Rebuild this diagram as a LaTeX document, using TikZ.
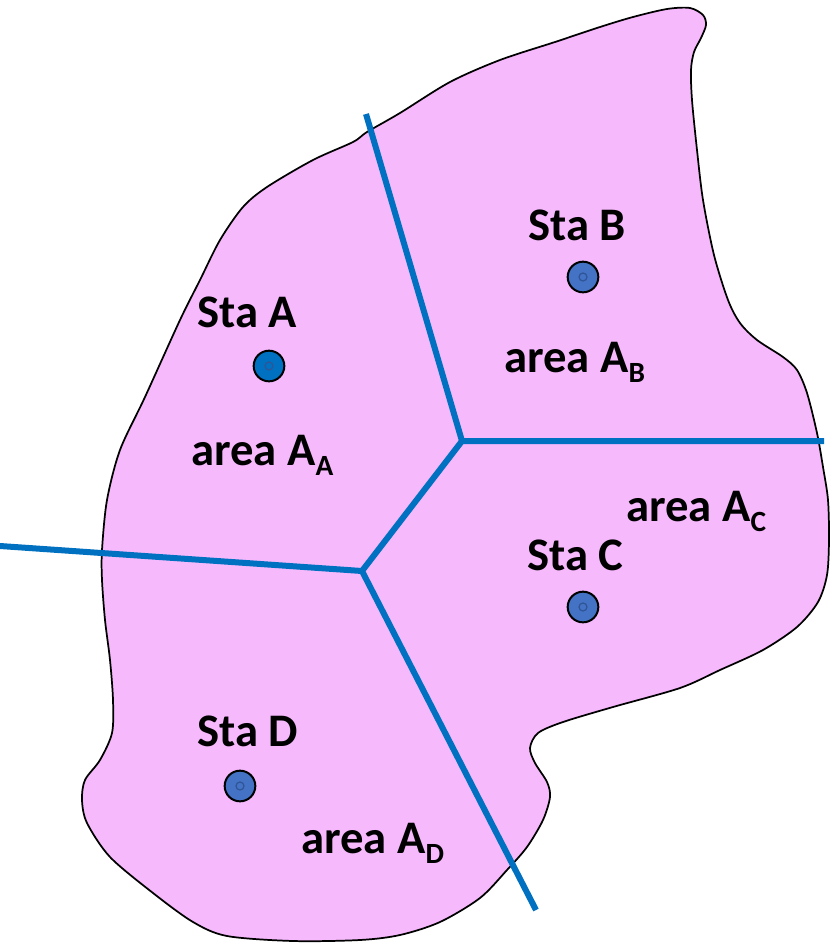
\documentclass[tikz,border=0pt]{standalone}
\usepackage{fontspec}
\setmainfont{Carlito}
\usetikzlibrary{positioning}
\definecolor{RegionPink}{RGB}{246,185,252}
\definecolor{EdgeBlue}{RGB}{0,112,192}
\definecolor{DotBlue}{RGB}{68,114,196}
\definecolor{DotRing}{RGB}{47,85,151}
\newcommand{\areasub}[1]{\raisebox{-7.5pt}{\fontsize{22}{22}\selectfont #1}}
\tikzset{
  stalabel/.style={anchor=base west,inner sep=0pt,font=\fontsize{35}{38}\selectfont\bfseries},
  station/.style={circle,draw=black,line width=1.5pt,fill=DotBlue,minimum size=23pt,inner sep=0pt},
  core/.style={circle,draw=DotRing,line width=0.9pt,minimum size=6pt,inner sep=0pt},
  boundary/.style={EdgeBlue,line width=4.5pt},
  outline/.style={draw=black,line width=1.3pt,fill=RegionPink}
}
\begin{document}
\begin{tikzpicture}[x=0.75pt,y=-0.75pt]
  \useasboundingbox[fill=white] (0,0) rectangle (829,943);
  % catchment outline
  \draw[outline] plot[smooth cycle,tension=0.5] coordinates {
    (600,27) (633,17) (667,9) (690,8) (703,15) (706,25) (701,38) (694,52)
    (691,70) (692,100) (697,150) (703,200) (714,255) (728,300) (740,323)
    (757,340) (783,357) (797,370) (807,393) (817,433) (823,467) (828,500)
    (829,540) (827,575) (818,602) (797,627) (763,650) (720,670) (680,688)
    (613,707) (563,722) (538,733) (530,748) (535,763) (547,782) (550,797)
    (543,820) (527,847) (507,870) (480,898) (440,922) (400,935) (360,940)
    (293,941) (227,936) (193,922) (153,893) (110,857) (87,823) (82,800)
    (85,780) (100,760) (112,733) (113,700) (110,660) (105,620) (102,580)
    (102,550) (107,500) (120,450) (145,397) (180,320) (200,280) (220,240)
    (243,207) (267,187) (313,160) (353,142) (367,132) (400,113) (450,82)
    (500,60) (555,42)};
  % polygon edges
  \coordinate (jn) at (462,441);
  \coordinate (js) at (362,571);
  \coordinate (nEnd) at (366,114);
  \coordinate (eEnd) at (824,441);
  \coordinate (wEnd) at (0,546);
  \coordinate (sEnd) at (536,910);
  \draw[boundary] (nEnd) -- (jn) -- (eEnd);
  \draw[boundary] (jn) -- (js);
  \draw[boundary] (wEnd) -- (js) -- (sEnd);
  % stations
  \node[station,fill=EdgeBlue] (staA) at (269,366) {};
  \node[station] (staB) at (583,277) {};
  \node[station] (staC) at (583,607) {};
  \node[station] (staD) at (240,786) {};
  \foreach \s in {staA,staB,staC,staD}
    \node[core] at (\s.center) {};
  % labels
  \node[stalabel] (labA) at (197,327) {Sta A};
  \node[stalabel] (labB) at (528,240) {Sta B};
  \node[stalabel] (labC) at (527,570) {Sta C};
  \node[stalabel] (labD) at (197,746) {Sta D};
  \node[stalabel] (areaA) at (191,465) {area A\areasub{A}};
  \node[stalabel] (areaB) at (504,372) {area A\areasub{B}};
  \node[stalabel] (areaC) at (626,521) {area A\areasub{C}};
  \node[stalabel] (areaD) at (301,853) {area A\areasub{D}};
\end{tikzpicture}
\end{document}
